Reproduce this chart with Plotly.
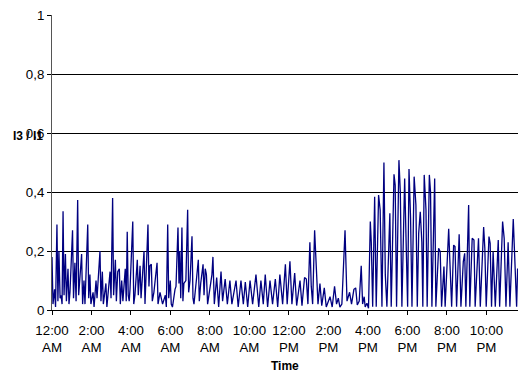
import plotly.graph_objects as go

# Time of day in hours since midnight, and the measured I3/I1 ratio
hours = [
    0.00, 0.05, 0.13, 0.18, 0.25, 0.30, 0.35, 0.41, 0.46, 0.51, 0.56, 0.61, 0.68, 0.73,
    0.81, 0.86, 0.91, 1.04, 1.09, 1.16, 1.22, 1.30, 1.35, 1.42, 1.50, 1.55, 1.62, 1.67,
    1.81, 1.86, 1.92, 1.97, 2.08, 2.13, 2.23, 2.28, 2.34, 2.43, 2.48, 2.55, 2.60, 2.73,
    2.78, 2.94, 2.99, 3.07, 3.12, 3.21, 3.26, 3.33, 3.41, 3.46, 3.53, 3.59, 3.71, 3.76,
    3.81, 3.86, 3.91, 3.95, 4.09, 4.14, 4.20, 4.32, 4.37, 4.46, 4.51, 4.66, 4.71, 4.86,
    4.91, 4.96, 5.03, 5.08, 5.16, 5.32, 5.37, 5.47, 5.60, 5.74, 5.79, 5.86, 5.91, 5.99,
    6.04, 6.10, 6.23, 6.28, 6.38, 6.43, 6.47, 6.52, 6.58, 6.63, 6.68, 6.78, 6.87, 6.92,
    6.99, 7.09, 7.14, 7.19, 7.31, 7.41, 7.46, 7.53, 7.65, 7.70, 7.76, 7.82, 7.88, 8.00,
    8.10, 8.15, 8.22, 8.34, 8.44, 8.56, 8.64, 8.77, 8.88, 9.01, 9.11, 9.32, 9.43, 9.57,
    9.69, 9.79, 9.91, 10.03, 10.16, 10.33, 10.47, 10.58, 10.70, 10.80, 10.92, 11.04, 11.17,
    11.31, 11.43, 11.54, 11.68, 11.82, 11.91, 12.05, 12.15, 12.29, 12.39, 12.56, 12.66,
    12.79, 12.88, 12.96, 13.06, 13.13, 13.20, 13.30, 13.37, 13.47, 13.57, 13.66, 13.79,
    13.89, 14.08, 14.19, 14.31, 14.41, 14.50, 14.58, 14.68, 14.84, 14.94, 15.07, 15.17,
    15.29, 15.38, 15.46, 15.56, 15.66, 15.73, 15.81, 15.86, 15.95, 16.03, 16.12, 16.17,
    16.24, 16.34, 16.42, 16.54, 16.62, 16.71, 16.81, 16.88, 16.96, 17.11, 17.18, 17.32,
    17.38, 17.45, 17.57, 17.64, 17.72, 17.86, 17.94, 18.01, 18.08, 18.16, 18.23, 18.34,
    18.43, 18.50, 18.57, 18.65, 18.73, 18.78, 18.85, 18.94, 19.00, 19.11, 19.17, 19.24,
    19.38, 19.44, 19.58, 19.66, 19.73, 19.85, 19.91, 20.09, 20.15, 20.24, 20.34, 20.41,
    20.49, 20.59, 20.62, 20.71, 20.83, 20.90, 20.96, 21.10, 21.16, 21.28, 21.37, 21.43,
    21.60, 21.69, 21.86, 21.92, 21.99, 22.13, 22.19, 22.26, 22.34, 22.45, 22.60, 22.67,
    22.82, 22.90, 22.99, 23.10, 23.19, 23.36, 23.44, 23.53, 23.58,
]
ratio = [
    0.18, 0.02, 0.07, 0.01, 0.29, 0.03, 0.20, 0.04, 0.05, 0.02, 0.335, 0.05, 0.19, 0.03,
    0.14, 0.02, 0.06, 0.27, 0.04, 0.16, 0.03, 0.373, 0.05, 0.12, 0.19, 0.02, 0.10, 0.02,
    0.29, 0.04, 0.12, 0.02, 0.06, 0.01, 0.10, 0.04, 0.12, 0.20, 0.03, 0.13, 0.02, 0.09,
    0.01, 0.13, 0.04, 0.38, 0.05, 0.17, 0.03, 0.13, 0.14, 0.02, 0.10, 0.03, 0.14, 0.03,
    0.265, 0.05, 0.03, 0.07, 0.30, 0.02, 0.05, 0.17, 0.05, 0.15, 0.04, 0.20, 0.02, 0.29,
    0.08, 0.15, 0.155, 0.03, 0.06, 0.16, 0.02, 0.06, 0.02, 0.05, 0.01, 0.29, 0.04, 0.10,
    0.02, 0.01, 0.07, 0.08, 0.28, 0.09, 0.20, 0.04, 0.28, 0.03, 0.09, 0.10, 0.34, 0.06,
    0.10, 0.25, 0.04, 0.02, 0.10, 0.17, 0.03, 0.09, 0.155, 0.05, 0.14, 0.12, 0.02, 0.08,
    0.12, 0.18, 0.02, 0.11, 0.01, 0.13, 0.03, 0.105, 0.02, 0.10, 0.02, 0.10, 0.01, 0.10,
    0.02, 0.095, 0.01, 0.10, 0.02, 0.12, 0.01, 0.10, 0.02, 0.12, 0.01, 0.10, 0.02,
    0.105, 0.01, 0.12, 0.02, 0.155, 0.02, 0.165, 0.02, 0.125, 0.015, 0.10, 0.015,
    0.11, 0.105, 0.02, 0.23, 0.08, 0.02, 0.27, 0.17, 0.02, 0.09, 0.015, 0.075,
    0.01, 0.045, 0.01, 0.08, 0.02, 0.04, 0.01, 0.02, 0.27, 0.03, 0.06, 0.02,
    0.07, 0.075, 0.017, 0.03, 0.15, 0.02, 0.045, 0.01, 0.023, 0.006, 0.30, 0.23,
    0.011, 0.384, 0.011, 0.39, 0.339, 0.011, 0.50, 0.119, 0.011, 0.328, 0.011, 0.46,
    0.424, 0.011, 0.508, 0.40, 0.011, 0.446, 0.198, 0.011, 0.478, 0.31, 0.011, 0.452,
    0.356, 0.011, 0.26, 0.333, 0.23, 0.011, 0.458, 0.34, 0.011, 0.458, 0.40, 0.011,
    0.446, 0.011, 0.209, 0.198, 0.011, 0.147, 0.011, 0.275, 0.164, 0.011, 0.22, 0.215,
    0.011, 0.243, 0.257, 0.011, 0.164, 0.192, 0.011, 0.356, 0.011, 0.243, 0.237, 0.011,
    0.243, 0.011, 0.281, 0.209, 0.011, 0.249, 0.226, 0.011, 0.198, 0.011, 0.237, 0.011,
    0.30, 0.243, 0.011, 0.23, 0.011, 0.308, 0.141, 0.011, 0.141,
]

tick_hours = [0, 2, 4, 6, 8, 10, 12, 14, 16, 18, 20, 22]
tick_labels = [
    "12:00<br>AM", "2:00<br>AM", "4:00<br>AM", "6:00<br>AM", "8:00<br>AM", "10:00<br>AM",
    "12:00<br>PM", "2:00<br>PM", "4:00<br>PM", "6:00<br>PM", "8:00<br>PM", "10:00<br>PM",
]
y_ticks = [0, 0.2, 0.4, 0.6, 0.8, 1.0]
y_labels = ["0", "0,2", "0,4", "0,6", "0,8", "1"]

FONT = "Liberation Sans, Arial, sans-serif"

fig = go.Figure()
fig.add_trace(go.Scatter(
    x=hours, y=ratio, mode="lines",
    line=dict(color="#000080", width=1.3),
    showlegend=False, hoverinfo="skip",
))

fig.update_layout(
    width=518, height=374,
    margin=dict(l=52, r=0, t=15, b=64),
    paper_bgcolor="white", plot_bgcolor="white",
    font=dict(family=FONT, size=12, color="black"),
    xaxis=dict(
        range=[0, 23.6], tickmode="array", tickvals=tick_hours, ticktext=tick_labels,
        showgrid=False, zeroline=False,
        showline=True, linecolor="black", linewidth=1,
        ticks="outside", ticklen=4, tickcolor="black",
        ticklabelstandoff=4,
        tickfont=dict(family=FONT, size=13.3),
    ),
    yaxis=dict(
        range=[0, 1], tickmode="array", tickvals=y_ticks, ticktext=y_labels,
        showgrid=True, gridcolor="black", gridwidth=1, zeroline=False,
        showline=True, linecolor="#555555", linewidth=1,
        ticks="outside", ticklen=4, tickcolor="black",
        tickfont=dict(family=FONT, size=13.3),
    ),
    annotations=[
        # the axis title sits on top of the 0,6 tick label, as in the source chart
        dict(text="<b>I3 / I1</b>", xref="paper", yref="y", x=-0.052, y=0.59,
             xanchor="center", yanchor="middle", showarrow=False,
             font=dict(family=FONT, size=12)),
        dict(text="<b>Time</b>", xref="paper", yref="paper", x=0.5, y=-0.19,
             xanchor="center", yanchor="middle", showarrow=False,
             font=dict(family=FONT, size=12)),
    ],
)

fig.write_html("out.html")
